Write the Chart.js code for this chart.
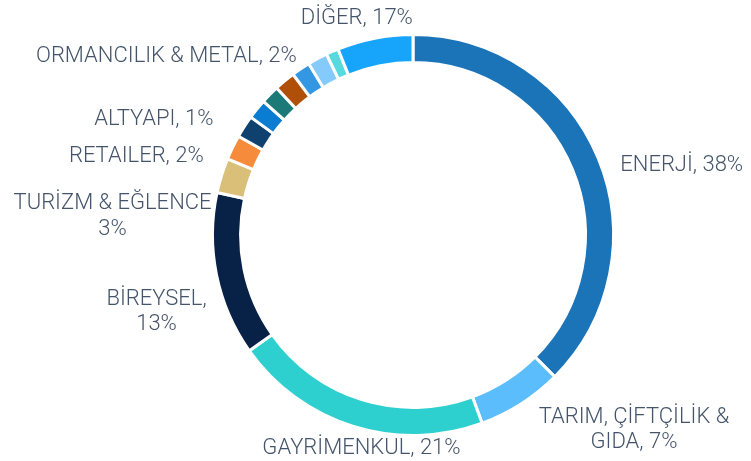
<!DOCTYPE html>
<html>
<head>
<meta charset="utf-8">
<script src="https://cdn.jsdelivr.net/npm/chart.js@4.4.1/dist/chart.umd.min.js"></script>
<style>
  html, body { margin: 0; padding: 0; background: #fff; }
  #wrap { width: 751px; height: 461px; position: relative; }
</style>
</head>
<body>
<div id="wrap"><canvas id="sectorChart"></canvas></div>
<script>
const sectors = ['ENERJİ', 'TARIM, ÇİFTÇİLİK & GIDA', 'GAYRİMENKUL', 'BİREYSEL', 'TURİZM & EĞLENCE',
    'RETAILER', 'ALTYAPI', 'DİĞER 1', 'DİĞER 2', 'ORMANCILIK & METAL', 'DİĞER 3', 'DİĞER 4', 'DİĞER 5', 'DİĞER'];
const shares = [37.5, 6.9, 20.8, 13.2, 2.8, 2.0, 1.8, 1.6, 1.5, 1.7, 1.5, 1.6, 1.0, 6.1];
const colors = ['#1b73b8', '#5bbdfb', '#2ecfcf', '#082146', '#d9bf78', '#f68b3c', '#0e416e',
    '#0a7dd3', '#1b7a78', '#b04f08', '#3397e3', '#84cafa', '#56dadc', '#17a5fb'];

// data label texts (as printed on the chart)
const labelText = [
    ['ENERJİ, 38%'],
    ['TARIM, ÇİFTÇİLİK &', 'GIDA, 7%'],
    ['GAYRİMENKUL, 21%'],
    ['BİREYSEL,', '13%'],
    ['TURİZM & EĞLENCE', '3%'],
    ['RETAILER, 2%'],
    ['ALTYAPI, 1%'],
    null, null,
    ['ORMANCILIK & METAL, 2%'],
    null, null, null,
    ['DİĞER, 17%']
];

// label nudges relative to the arc's outer midpoint
const labelPlace = {
    0: { dx: 22, dy: 7, align: 'left' },
    1: { dx: 113, dy: 26, align: 'center' },
    2: { dx: 8, dy: 22, align: 'center' },
    3: { dx: -60, dy: 37, align: 'center' },
    4: { dx: -109, dy: 41, align: 'center' },
    5: { dx: -29, dy: 9, align: 'right' },
    6: { dx: -31, dy: -7, align: 'right' },
    9: { dx: 12, dy: -24, align: 'right' },
    13: { dx: -18, dy: -20, align: 'center' }
};

const outsideLabels = {
    id: 'outsideLabels',
    afterDatasetsDraw(chart) {
        const ctx = chart.ctx;
        const meta = chart.getDatasetMeta(0);
        ctx.save();
        ctx.font = '300 22px Roboto';
        ctx.fillStyle = '#44546A';
        ctx.textBaseline = 'middle';
        const lineH = 25.5;
        meta.data.forEach((arc, i) => {
            const lines = labelText[i];
            if (!lines) return;
            const p = arc.getProps(['x', 'y', 'startAngle', 'endAngle', 'outerRadius'], true);
            const mid = (p.startAngle + p.endAngle) / 2;
            const place = labelPlace[i];
            const ax = p.x + Math.cos(mid) * p.outerRadius + place.dx;
            const ay = p.y + Math.sin(mid) * p.outerRadius + place.dy;
            ctx.textAlign = place.align;
            const top = ay - (lines.length - 1) * lineH / 2;
            lines.forEach((t, k) => ctx.fillText(t, ax, top + k * lineH));
        });
        ctx.restore();
    }
};

new Chart(document.getElementById('sectorChart'), {
    type: 'doughnut',
    data: {
        labels: sectors,
        datasets: [{
            data: shares,
            backgroundColor: colors,
            borderColor: '#ffffff',
            borderWidth: 3
        }]
    },
    options: {
        responsive: true,
        maintainAspectRatio: false,
        animation: false,
        cutout: '86%',
        layout: { padding: { left: 211, right: 136, top: 33, bottom: 24 } },
        plugins: {
            legend: { display: false },
            tooltip: { enabled: false }
        }
    },
    plugins: [outsideLabels]
});
</script>
</body>
</html>
